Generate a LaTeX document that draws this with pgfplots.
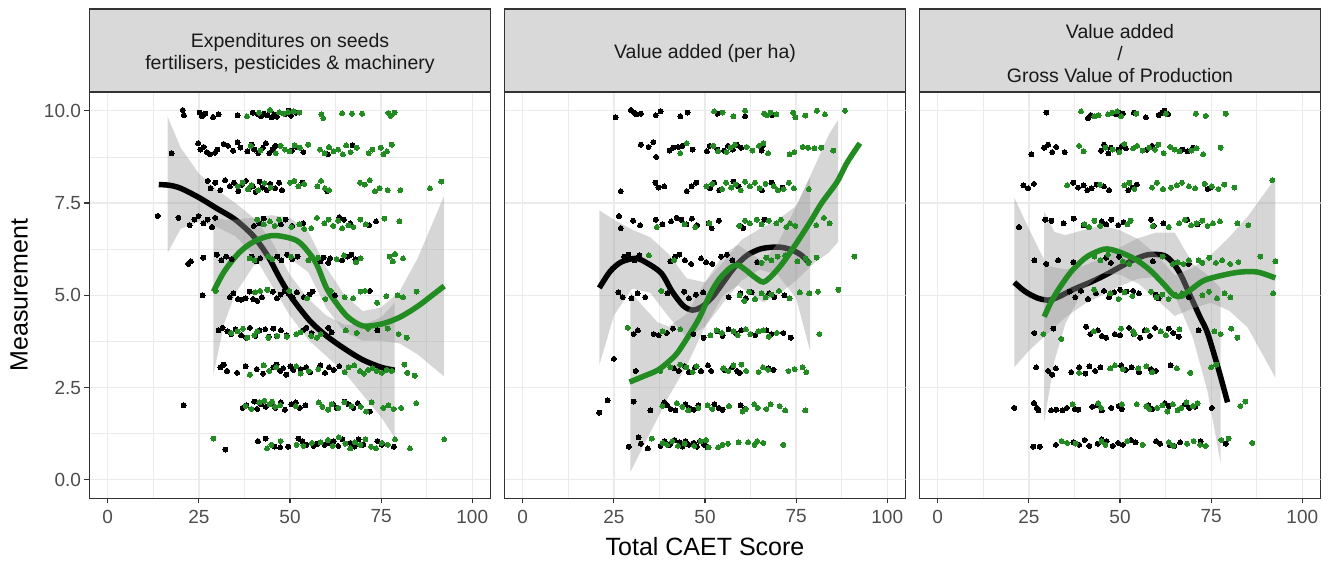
\documentclass[border=0pt]{standalone}
\usepackage{fontspec}
\setmainfont{Liberation Sans}
\usepackage{pgfplots}
\pgfplotsset{compat=1.18}
\definecolor{gridc}{HTML}{EBEBEB}
\definecolor{gtwenty}{HTML}{333333}
\definecolor{gthirty}{HTML}{4D4D4D}
\definecolor{stripc}{HTML}{D9D9D9}
\definecolor{ribc}{HTML}{999999}
\definecolor{fgreen}{HTML}{228B22}
\definecolor{txt}{HTML}{1A1A1A}
\pgfplotsset{
  panel/.style={
    scale only axis, width=401pt, height=406pt,
    xmin=-5, xmax=105, ymin=-0.5, ymax=10.5,
    xtick={0,25,50,75,100}, xticklabels={0,25,50,75,100},
    minor xtick={12.5,37.5,62.5,87.5},
    minor ytick={1.25,3.75,6.25,8.75},
    tick pos=left, tick align=outside,
    major tick length=5pt, minor tick length=0pt,
    grid=both,
    major grid style={draw=gridc, line width=1.3pt},
    minor grid style={draw=gridc, line width=0.7pt},
    axis line style={draw=gtwenty, line width=1.6pt},
    tick style={draw=gtwenty, line width=1.1pt},
    ticklabel style={font=\fontsize{19}{19}\selectfont, text=gthirty},
    xticklabel style={yshift=-3pt},
    /pgf/number format/assume math mode=true,
  },
  bpts/.style={only marks, mark=*, mark size=2.5pt, color=black, mark options={line width=0pt}},
  gpts/.style={only marks, mark=*, mark size=2.5pt, color=fgreen, mark options={line width=0pt}},
  rib/.style={draw=none, fill=ribc, fill opacity=0.4, mark=none},
  bline/.style={draw=black, line width=5.5pt, smooth, tension=0.5, mark=none},
  gline/.style={draw=fgreen, line width=5.5pt, smooth, tension=0.5, mark=none},
}
\newcommand{\ygrid}{%
  \draw[gridc, line width=1.3pt] (axis cs:-5,0) -- (axis cs:105,0);
  \draw[gridc, line width=1.3pt] (axis cs:-5,2.5) -- (axis cs:105,2.5);
  \draw[gridc, line width=1.3pt] (axis cs:-5,5) -- (axis cs:105,5);
  \draw[gridc, line width=1.3pt] (axis cs:-5,7.5) -- (axis cs:105,7.5);
  \draw[gridc, line width=1.3pt] (axis cs:-5,10) -- (axis cs:105,10);
}
\begin{document}
\begin{tikzpicture}
\useasboundingbox (0,0) rectangle (1335pt,563pt);
% ---------------- Panel 1 ----------------
\begin{axis}[panel, name=p1, at={(89.5pt,64.7pt)}, anchor=south west,
  ytick={0,2.5,5,7.5,10}, yticklabels={0.0,2.5,5.0,7.5,10.0}]
\addplot[bpts] coordinates {
(20.6,10.02) (20.9,9.88) (25.2,9.95) (25.9,9.85) (26.8,9.92) (28.9,9.83) (30.4,9.9) (35.6,9.88) (39.8,9.95) (41.2,9.9) (42.0,9.85) (42.9,9.92) (43.8,9.88) (44.9,9.82) (45.6,9.9) (46.4,9.84) (48.8,9.92) (49.6,10.0) (50.3,9.87) (51.7,9.95)
(17.5,8.85) (24.8,9.12) (25.4,8.95) (26.3,9.02) (27.2,8.88) (28.0,8.82) (29.4,8.86) (30.1,8.95) (31.8,9.1) (33.0,9.05) (34.4,8.92) (35.6,9.15) (36.4,9.0) (38.3,8.9) (39.5,9.08) (40.2,8.95) (41.3,8.85) (42.6,9.0) (43.4,9.12) (44.3,8.85) (45.2,8.95) (46.0,9.05) (50.5,8.92) (51.8,9.02) (53.7,8.88) (60.4,8.82) (67.2,9.06)
(27.4,8.1) (28.2,7.9) (29.5,8.05) (30.9,7.85) (32.2,8.12) (33.5,7.95) (34.6,8.05) (35.8,7.82) (36.8,8.0) (37.9,8.1) (38.7,7.88) (39.8,7.95) (40.6,7.8) (41.7,8.08) (42.5,7.92) (43.6,7.85) (44.6,8.02) (45.9,7.9) (47.0,8.05) (47.8,7.85) (53.4,8.05) (60.2,7.82)
(13.7,7.15) (19.4,7.1) (22.5,6.9) (23.8,7.05) (24.9,7.15) (26.2,6.95) (27.4,7.05) (28.6,6.85) (29.5,7.1) (40.1,6.88) (41.6,6.95) (42.8,7.08) (47.5,6.92) (48.8,7.05) (50.6,6.88) (53.6,6.95) (63.5,7.12) (64.8,7.05) (66.5,6.95) (71.7,6.9) (73.6,7.0)
(22.1,5.85) (22.8,5.92) (26.2,6.02) (29.9,6.1) (31.2,5.95) (32.5,6.05) (34.0,5.98) (39.5,6.05) (40.8,5.92) (41.8,6.0) (46.5,6.05) (47.6,5.95) (49.2,6.1) (50.6,5.98) (52.1,6.05) (58.3,5.92) (59.2,6.02) (60.5,5.88) (61.0,6.0) (64.3,5.95) (65.7,6.05) (66.8,6.1) (67.9,5.98)
(26.0,5.0) (33.5,4.95) (34.5,5.05) (35.7,4.9) (36.6,4.88) (37.8,4.92) (38.9,5.1) (39.9,4.9) (41.0,4.85) (42.3,4.95) (45.3,5.1) (46.4,4.92) (47.4,5.02) (48.5,5.12) (49.6,5.05) (50.7,4.95) (51.9,5.08) (53.8,4.95) (55.3,5.02) (56.2,5.1) (62.3,5.0) (71.9,5.12)
(30.4,4.05) (31.5,4.12) (32.8,4.02) (33.9,3.95) (35.1,4.08) (36.6,3.92) (38.0,3.85) (39.0,4.12) (40.5,3.9) (41.6,4.05) (43.2,4.08) (44.2,3.88) (45.4,4.1) (46.3,3.9) (47.5,4.05) (49.1,3.92) (53.6,4.05) (54.5,4.12) (55.9,3.98) (60.5,4.12) (61.4,4.0) (74.0,4.05)
(30.9,3.05) (31.8,3.12) (32.7,2.95) (35.5,2.9) (37.8,3.08) (40.9,3.0) (42.6,2.88) (45.4,3.05) (46.3,3.12) (47.3,2.95) (48.1,3.02) (49.0,2.85) (50.1,3.08) (50.9,2.98) (52.9,3.0) (54.4,3.05) (55.5,2.92) (58.3,3.1) (59.6,2.9) (60.7,3.05) (62.0,2.98) (63.5,3.08)
(20.8,2.02) (37.0,1.95) (38.0,2.02) (40.2,2.12) (41.0,1.92) (42.0,2.05) (43.4,1.98) (44.8,2.08) (46.0,1.95) (47.5,2.1) (48.6,1.9) (50.4,2.05) (51.6,2.1) (52.7,1.95) (54.2,2.02) (61.8,2.05) (62.8,1.95) (65.0,2.12) (66.0,2.05) (67.4,1.95) (68.6,2.08) (71.9,1.85)
(32.3,0.82) (41.2,1.05) (43.3,1.12) (45.7,0.9) (47.3,0.88) (49.5,0.9) (52.3,1.12) (53.4,1.05) (54.5,0.95) (56.5,0.92) (57.6,0.98) (59.5,0.95) (60.9,1.0) (62.0,1.05) (63.2,0.92) (64.4,1.1) (66.6,1.0) (67.7,0.9) (68.8,1.1) (70.1,0.95) (74.0,1.05) (75.2,0.95) (78.5,0.9)
};
\addplot[gpts] coordinates {
(38.2,9.85) (41.5,9.95) (44.5,10.02) (47.0,9.96) (48.3,9.92) (49.5,9.97) (51.0,9.98) (52.6,9.95) (58.6,9.9) (59.1,9.8) (64.3,9.93) (67.0,9.92) (69.8,9.92) (77.0,9.94) (77.6,9.86) (78.7,9.95)
(39.2,9.05) (41.9,8.92) (46.1,8.85) (47.4,9.05) (48.6,8.95) (49.8,8.9) (51.3,9.06) (52.7,9.0) (55.0,9.08) (58.2,8.95) (59.5,8.85) (60.7,9.02) (62.0,8.9) (63.2,8.95) (64.5,8.82) (65.4,9.06) (66.6,8.88) (68.3,9.0) (71.6,8.85) (72.6,8.95) (74.9,9.0) (75.6,8.82) (76.6,8.9) (77.9,9.08)
(35.7,7.95) (37.0,8.05) (38.5,7.88) (39.4,7.98) (41.3,7.85) (43.0,8.04) (44.7,7.92) (50.0,8.05) (51.2,8.1) (52.3,7.95) (53.9,8.02) (57.5,7.95) (58.5,8.1) (59.6,7.9) (60.7,7.85) (69.2,8.05) (70.5,8.0) (71.9,8.12) (73.3,7.82) (74.6,7.9) (76.8,7.85) (80.3,7.85) (88.4,7.9) (91.5,8.08)
(41.0,7.05) (42.8,6.92) (44.5,7.0) (45.8,6.88) (47.0,7.05) (50.4,6.85) (52.6,6.92) (53.9,6.8) (55.8,6.82) (57.4,7.1) (59.4,6.95) (60.6,7.05) (61.9,6.88) (63.2,7.02) (64.3,6.82) (66.0,6.9) (67.4,6.85) (69.3,7.05) (70.8,6.92) (75.9,7.08) (80.0,7.0)
(38.9,6.0) (40.2,5.95) (44.0,6.05) (45.1,5.98) (50.3,6.05) (55.0,5.95) (57.7,6.02) (62.8,5.98) (64.8,6.08) (68.1,5.9) (69.4,6.0) (77.3,6.05) (78.2,5.92) (78.8,6.12) (81.0,6.0)
(29.6,5.12) (40.4,5.08) (41.8,5.12) (43.8,5.15) (49.8,5.12) (54.7,4.92) (59.7,4.9) (61.2,5.12) (65.0,4.95) (67.3,4.92) (69.4,5.1) (70.6,5.12) (73.9,4.8) (76.4,4.98) (79.5,5.0) (81.0,4.95) (84.7,5.1)
(33.9,3.98) (35.6,4.02) (37.1,4.1) (38.3,3.85) (40.2,3.92) (41.0,4.02) (44.1,3.85) (46.5,3.9) (49.1,3.88) (51.7,3.95) (52.9,4.0) (55.8,3.9) (57.4,3.85) (58.4,3.95) (65.3,4.05) (68.3,3.98) (71.4,4.1) (76.8,4.1) (79.8,3.95) (82.0,3.85)
(39.0,2.85) (42.8,3.1) (44.3,2.95) (46.2,3.05) (51.7,3.08) (52.9,2.88) (55.1,2.95) (57.8,3.0) (65.0,2.92) (66.1,3.05) (67.6,3.1) (69.2,2.95) (70.3,2.88) (71.5,2.98) (72.6,3.02) (73.8,2.95) (75.2,2.9) (76.5,2.98) (77.9,2.95) (81.4,3.12) (82.2,2.9) (84.2,2.82)
(37.8,2.0) (39.4,1.92) (41.6,2.1) (43.0,2.14) (44.4,2.05) (45.1,2.12) (45.9,1.98) (47.3,2.02) (51.6,2.0) (57.9,2.1) (58.9,1.98) (60.5,1.9) (61.4,2.05) (63.3,1.95) (64.9,2.1) (66.8,2.0) (69.4,1.98) (70.9,1.85) (72.4,2.1) (75.6,1.95) (77.0,2.02) (78.4,1.92) (80.5,1.95) (84.6,2.08)
(29.0,1.12) (43.7,0.85) (44.9,0.95) (47.4,1.05) (51.8,0.95) (53.7,0.92) (56.0,1.0) (58.4,1.02) (60.4,1.08) (61.7,0.92) (63.4,1.15) (65.2,0.98) (66.5,0.85) (67.8,1.02) (69.3,0.95) (70.7,1.1) (72.2,0.9) (73.6,0.85) (75.2,1.0) (76.8,0.95) (78.8,1.1) (82.9,0.85) (92.3,1.1)
};
\addplot[rib] coordinates {(16.4,9.85) (20,9.0) (25,8.3) (30,7.85) (35,7.5) (40,7.1) (45,6.47) (50,5.55) (55,4.9) (60,4.45) (65,4.2) (70,4.2) (75,4.4) (78.7,4.8)
 (78.7,1.15) (75,1.7) (70,2.3) (65,2.9) (60,3.35) (55,3.8) (50,4.45) (45,5.27) (40,6.1) (35,6.6) (30,6.85) (25,7.0) (20,6.8) (16.4,6.15)};
\addplot[bline] coordinates {(14,8.0) (17,7.98) (20,7.9) (25,7.65) (30,7.35) (35,7.05) (40,6.6) (44,6.05) (47,5.5) (50,5.0) (53,4.6) (56,4.25) (60,3.9) (65,3.55) (70,3.25) (75,3.05) (78.7,2.97)};
\addplot[rib] coordinates {(29,7.1) (32,7.05) (35,7.05) (40,7.1) (45,7.17) (50,7.1) (55,6.73) (60,5.75) (65,5.0) (70,4.57) (75,4.67) (80,5.1) (85,6.0) (92.3,7.7)
 (92.3,2.8) (85,3.4) (80,3.7) (75,3.77) (70,3.77) (65,4.0) (60,4.65) (55,5.63) (50,6.0) (45,6.07) (40,5.8) (35,5.05) (32,4.25) (29,2.85)};
\addplot[gline] coordinates {(29,5.1) (32,5.65) (36,6.15) (40,6.45) (45,6.62) (50,6.55) (53,6.4) (57,5.9) (60,5.2) (63,4.75) (66,4.4) (70,4.17) (75,4.22) (80,4.4) (85,4.7) (89,5.0) (92.3,5.25)};
\end{axis}
% ---------------- Panel 2 ----------------
\begin{axis}[panel, name=p2, at={(504.5pt,64.7pt)}, anchor=south west, ytick=\empty]
\ygrid
\addplot[bpts] coordinates {
(25.5,9.82) (29.7,10.02) (30.5,9.95) (31.2,9.9) (32.4,9.92) (36.5,9.88) (37.8,9.98) (43.2,9.85) (45.2,9.95) (53.4,9.92) (61.0,9.85) (68.4,9.88)
(32.4,9.08) (34.5,9.02) (35.8,9.15) (36.6,8.75) (40.3,8.92) (41.3,9.0) (42.6,9.02) (43.8,9.05) (46.6,8.95) (50.5,8.9) (51.3,9.05) (53.4,8.95) (55.2,8.92) (56.3,9.05) (57.6,8.95) (58.7,9.08) (59.9,9.0) (65.5,8.92) (65.9,9.05)
(26.9,7.82) (36.4,8.05) (37.2,7.92) (38.8,7.95) (45.0,7.82) (46.3,7.95) (47.6,8.05) (51.4,7.9) (52.5,8.05) (53.9,7.85) (57.8,8.08) (59.2,7.95) (65.6,7.85) (68.3,8.05) (71.3,7.92)
(26.4,7.15) (26.9,6.82) (30.3,7.02) (32.2,6.9) (36.5,7.05) (38.3,6.92) (40.7,7.0) (42.2,7.1) (43.5,7.05) (44.9,6.92) (46.4,7.08) (47.8,6.9) (51.0,6.95) (51.8,6.82) (53.8,7.02) (59.7,6.88) (60.5,6.82) (66.3,7.05)
(27.8,6.05) (29.0,6.1) (30.6,5.95) (32.0,6.08) (40.5,5.92) (41.8,6.05) (43.0,6.1) (44.5,5.95) (46.2,5.85) (48.9,6.0) (50.3,5.9) (52.0,5.85) (54.4,6.05) (56.0,6.1) (57.5,5.95) (64.3,5.9)
(26.2,5.08) (27.4,4.95) (29.8,4.92) (31.5,5.05) (33.6,4.95) (39.7,5.05) (44.3,5.1) (45.6,4.92) (47.5,5.02) (49.5,5.08) (56.5,4.95) (59.7,5.05) (61.2,4.92) (62.8,5.08) (67.6,5.05) (69.0,4.95) (71.8,5.0)
(30.4,3.95) (31.6,4.05) (35.9,3.95) (37.3,3.92) (39.5,3.98) (41.2,4.1) (46.8,3.95) (49.6,3.85) (53.4,4.02) (54.8,3.9) (56.5,4.08) (58.3,3.98) (59.9,4.05) (62.5,3.95) (63.8,3.92) (66.8,4.05) (68.2,3.95) (71.5,3.98) (73.5,3.85)
(25.0,3.28) (31.0,2.95) (41.5,3.02) (42.8,2.95) (44.5,3.08) (45.6,2.92) (47.3,3.05) (48.9,2.95) (50.8,3.1) (51.7,2.95) (55.3,2.98) (57.4,3.05) (58.8,2.95) (59.5,2.9) (67.4,3.02) (68.8,2.98)
(21.0,1.82) (23.3,2.15) (30.4,2.12) (35.0,1.88) (38.8,2.1) (39.6,2.02) (40.6,1.92) (41.9,1.88) (44.6,2.05) (45.7,1.95) (46.9,1.9) (48.2,2.02) (52.6,2.05) (53.8,1.95) (54.8,1.9) (59.8,2.02) (60.9,1.92)
(29.1,0.9) (31.8,1.15) (32.4,0.98) (34.3,0.85) (37.8,0.92) (38.9,1.05) (40.3,0.95) (41.6,1.08) (43.0,1.02) (43.8,0.9) (44.7,1.05) (45.6,0.95) (46.9,1.0) (47.8,0.9) (48.6,1.05) (49.8,0.95) (50.7,0.88)
};
\addplot[gpts] coordinates {
(52.5,9.98) (54.8,9.95) (57.8,9.85) (61.0,10.0) (66.2,9.92) (67.0,9.88) (68.0,9.95) (69.6,9.9) (74.2,9.95) (74.8,9.82) (77.5,9.87) (80.7,10.0) (82.9,9.9) (88.4,10.0)
(43.2,8.85) (45.0,9.12) (52.3,9.05) (53.6,8.9) (55.9,8.88) (57.0,9.0) (58.2,9.08) (61.4,9.02) (63.0,8.92) (64.8,9.05) (66.0,9.12) (67.3,8.85) (73.2,8.82) (74.5,8.88) (76.8,9.02) (78.3,9.0) (80.0,8.98) (81.9,9.0) (85.2,8.92)
(50.4,7.95) (52.0,8.02) (54.7,7.88) (55.8,8.05) (57.2,7.92) (58.4,8.0) (59.8,7.85) (61.0,8.08) (62.3,7.95) (63.7,8.05) (65.0,7.9) (66.6,8.02) (68.9,7.95) (70.0,7.85) (71.6,7.88) (73.0,8.05) (74.4,7.9) (78.5,7.88)
(36.8,6.85) (44.4,6.92) (47.3,6.85) (51.2,6.95) (59.4,6.88) (61.0,7.02) (62.3,6.95) (64.2,7.05) (65.5,6.92) (67.5,7.02) (69.6,6.95) (70.8,7.05) (72.3,6.85) (73.3,6.95) (74.8,6.88) (80.5,6.9) (82.6,7.1) (84.2,6.95)
(34.6,6.08) (41.5,5.95) (65.5,5.88) (66.8,6.02) (68.2,5.95) (69.9,6.05) (72.0,6.08) (75.3,5.92) (77.6,6.0) (78.4,5.88) (80.6,6.02) (91.0,6.05)
(38.0,5.12) (59.5,5.0) (60.8,4.85) (62.1,5.1) (63.7,4.9) (65.5,5.05) (66.6,4.95) (68.2,5.02) (70.3,5.12) (73.2,4.92) (76.0,5.08) (78.6,5.05) (81.0,5.1) (86.6,5.15)
(28.8,4.12) (38.4,4.02) (43.2,4.08) (51.5,3.92) (53.2,4.05) (54.6,3.98) (57.8,4.02) (59.0,3.92) (61.2,4.08) (62.4,3.95) (64.6,4.02) (66.0,4.05) (67.5,3.88) (69.7,3.98) (81.4,3.95)
(37.7,2.95) (40.5,3.05) (43.2,3.12) (44.9,3.05) (46.6,2.92) (47.7,3.08) (55.0,3.02) (56.4,2.95) (57.8,3.1) (60.0,3.12) (61.3,2.95) (64.7,2.92) (65.9,3.05) (67.3,2.98) (72.9,2.95) (74.6,3.0) (76.8,3.05) (77.8,2.92)
(38.3,2.0) (42.3,2.08) (43.8,1.98) (45.4,1.88) (48.2,1.95) (50.7,2.02) (52.0,1.92) (56.6,2.0) (60.3,1.85) (61.2,1.92) (63.5,2.05) (64.5,1.95) (66.8,1.92) (68.0,2.05) (70.5,2.0) (72.0,1.88) (77.5,1.88)
(35.4,1.12) (38.4,1.0) (39.6,0.95) (41.0,1.05) (42.6,0.92) (44.4,0.98) (47.0,0.92) (48.8,1.05) (50.3,1.08) (51.0,0.88) (53.6,0.88) (54.8,0.95) (56.3,0.98) (59.2,1.02) (61.8,1.02) (63.6,0.95) (64.3,1.05) (66.0,1.0) (71.5,0.95)
};
\addplot[rib] coordinates {(21,7.3) (25,7.05) (30,6.78) (35,6.57) (40,6.12) (45,5.46) (50,5.35) (55,5.9) (60,6.5) (65,6.8) (70,7.05) (75,7.42) (78.8,8.2)
 (78.8,3.5) (75,4.92) (70,5.55) (65,5.7) (60,5.4) (55,4.8) (50,4.15) (45,3.86) (40,4.42) (35,5.07) (30,5.18) (25,4.45) (21,3.1)};
\addplot[bline] coordinates {(21,5.2) (24,5.65) (27,5.9) (31,6.0) (34,5.88) (38,5.6) (41,5.1) (44,4.72) (46.5,4.6) (49,4.68) (52,4.95) (55,5.35) (58,5.75) (61.5,6.08) (65,6.25) (68,6.3) (71,6.3) (74,6.22) (76.5,6.08) (78.8,5.85)};
\addplot[rib] coordinates {(29.5,5.1) (33,4.7) (37,4.27) (40,4.15) (45,4.5) (50,5.35) (55,6.1) (59,6.37) (63,6.1) (66,5.91) (70,6.42) (75,7.4) (80,8.48) (84,9.36) (86.5,9.75)
 (86.5,6.45) (84,6.16) (80,5.88) (75,5.4) (70,5.02) (66,4.81) (63,5.0) (59,5.27) (55,5.0) (50,4.15) (45,3.1) (40,2.25) (37,1.67) (33,0.9) (29.5,0.2)};
\addplot[gline] coordinates {(29.3,2.65) (33,2.8) (37,2.97) (40,3.2) (42.5,3.45) (46,3.98) (48.5,4.4) (51.5,5.05) (54,5.45) (57,5.75) (59,5.82) (61,5.7) (63.5,5.5) (66,5.36) (68.5,5.55) (71.5,5.9) (75,6.4) (78.8,6.98) (82,7.5) (86.2,8.07) (89,8.6) (92.5,9.12)};
\end{axis}
% ---------------- Panel 3 ----------------
\begin{axis}[panel, name=p3, at={(919.5pt,64.7pt)}, anchor=south west, ytick=\empty]
\ygrid
\addplot[bpts] coordinates {
(29.8,9.95) (41.2,9.8) (42.0,9.88) (48.9,9.9) (49.7,9.95) (50.8,9.92) (53.8,9.95) (57.1,9.82) (60.6,9.88) (61.5,9.95) (62.2,10.0) (63.2,9.9)
(25.7,8.82) (29.2,9.0) (30.3,9.08) (31.4,8.88) (32.5,9.02) (34.8,8.88) (44.8,8.92) (45.6,9.08) (46.8,8.85) (47.5,9.0) (49.6,8.95) (50.5,9.05) (51.6,8.98) (57.4,8.95) (58.8,9.05) (67.2,8.95) (68.5,8.9) (70.0,9.0)
(23.5,7.98) (24.8,7.9) (26.4,8.02) (37.2,8.05) (38.5,7.92) (40.0,7.98) (41.0,7.85) (42.2,7.9) (43.6,8.0) (45.6,7.95) (47.0,7.85) (52.3,7.85) (53.5,7.92) (54.6,8.0) (74.0,7.88) (74.9,7.92)
(22.3,6.85) (29.5,7.05) (31.2,7.02) (34.5,6.95) (37.3,7.08) (40.0,6.9) (45.0,7.0) (46.2,6.92) (47.6,7.05) (49.5,6.9) (51.0,6.98) (58.5,7.05) (59.3,6.88) (61.9,6.95) (68.4,7.05) (71.3,6.92)
(26.5,5.95) (29.8,5.85) (33.0,5.95) (37.2,5.9) (46.2,6.02) (47.5,5.88) (49.7,6.05) (59.0,5.92) (68.9,5.85)
(36.2,5.1) (37.7,4.95) (39.3,5.12) (41.2,4.9) (43.4,5.05) (45.6,5.12) (47.0,4.95) (48.4,5.08) (50.0,5.15) (51.8,5.1) (53.6,5.12) (55.2,5.05) (59.8,5.02) (60.6,4.92) (68.9,4.95)
(26.5,3.98) (31.7,4.1) (40.7,4.15) (41.9,3.95) (43.9,4.05) (45.0,3.9) (46.2,3.85) (48.6,3.95) (50.0,3.92) (52.5,4.12) (53.8,3.95) (55.5,3.85) (56.8,4.05) (58.2,3.9) (59.6,4.12) (63.4,4.1) (64.6,3.98) (66.1,3.88) (71.6,4.05)
(27.0,3.05) (30.3,2.95) (31.4,2.85) (32.4,3.02) (36.6,2.92) (38.8,3.05) (40.5,2.88) (41.6,3.08) (43.2,2.95) (44.6,3.05) (50.3,3.1) (51.6,2.98) (53.2,3.05) (55.2,2.92) (58.5,3.0) (59.8,2.95) (63.9,3.1)
(21.0,1.95) (26.4,2.08) (27.2,1.95) (27.6,1.88) (31.1,1.88) (32.5,1.9) (34.2,1.88) (35.4,1.95) (37.6,1.92) (38.6,1.9) (42.4,1.98) (43.8,2.02) (45.0,1.88) (47.6,1.95) (49.6,2.0) (50.5,1.92) (57.8,2.02) (58.8,1.92) (62.3,2.08) (63.4,2.0) (67.8,2.05) (69.0,1.95) (70.6,1.98) (75.2,1.95)
(26.2,0.9) (28.0,0.9) (32.4,0.95) (37.2,1.02) (38.8,0.95) (40.3,1.08) (41.6,0.92) (43.9,0.98) (45.0,1.1) (46.3,1.05) (48.0,0.92) (49.5,1.0) (50.8,0.95) (53.0,1.08) (54.3,1.02) (59.9,1.05) (61.0,0.98) (63.6,0.95) (64.9,0.92) (66.5,1.02) (72.1,1.05) (79.0,0.98)
};
\addplot[gpts] coordinates {
(39.3,9.98) (43.0,9.85) (44.1,9.88) (46.7,9.9) (47.8,9.95) (49.2,9.98) (50.3,9.85) (54.5,9.92) (62.6,9.92) (70.8,9.92) (73.5,9.86) (79.0,9.92)
(38.8,9.05) (40.0,8.9) (46.0,9.0) (48.0,8.95) (49.8,8.88) (51.2,9.1) (53.6,8.98) (54.7,9.05) (56.2,8.92) (58.0,9.0) (59.6,8.95) (60.5,9.08) (62.0,8.85) (63.8,9.02) (65.0,8.95) (66.3,8.9) (69.6,8.92) (71.0,8.98) (72.8,8.82) (77.6,9.0)
(35.5,7.98) (44.5,8.0) (51.2,7.98) (52.6,8.05) (53.9,7.88) (58.8,7.92) (60.1,8.05) (61.8,7.88) (64.0,7.92) (65.6,7.98) (67.0,8.05) (68.9,7.95) (70.6,7.9) (73.2,8.02) (75.2,7.95) (77.0,7.88) (78.6,8.0) (81.4,7.92) (91.8,8.12)
(40.2,6.92) (41.5,6.85) (43.0,7.02) (44.6,6.88) (52.0,6.92) (52.9,7.02) (59.0,6.88) (63.4,6.85) (66.2,6.95) (67.8,7.05) (69.5,6.9) (71.0,6.95) (72.6,7.02) (74.0,6.88) (75.5,6.95) (77.4,7.0) (82.2,6.95) (85.2,6.9)
(43.0,6.05) (44.6,5.95) (46.7,6.1) (50.8,5.92) (52.5,5.85) (55.2,5.95) (61.7,6.05) (64.5,5.85) (65.8,5.9) (67.4,5.85) (68.9,5.95) (71.6,5.95) (72.6,5.88) (74.5,6.02) (76.3,5.88) (78.0,5.95) (80.2,5.85) (82.5,5.9) (88.5,6.05) (92.6,5.92)
(42.9,5.15) (47.3,5.05) (49.6,4.9) (51.2,5.08) (53.4,4.98) (58.5,5.1) (60.0,4.95) (61.6,5.02) (63.3,4.9) (64.9,5.02) (67.0,5.05) (72.6,5.0) (74.4,5.1) (76.6,4.92) (78.7,5.05) (80.3,4.95) (92.0,5.05)
(29.0,3.95) (33.9,3.82) (42.8,4.02) (50.3,4.1) (53.6,4.02) (54.0,3.95) (57.4,4.05) (61.2,4.02) (62.6,3.92) (66.3,4.08) (75.9,4.02) (77.6,3.95) (80.5,4.1) (82.2,3.85)
(38.8,2.9) (47.3,3.02) (48.6,3.1) (50.8,3.0) (55.0,3.02) (57.2,3.08) (58.8,2.92) (65.6,3.02) (69.3,2.9) (75.0,3.05) (76.4,3.12)
(37.0,2.05) (44.0,2.08) (44.8,1.95) (50.5,2.05) (54.6,2.05) (57.2,2.0) (58.0,1.92) (60.2,1.95) (61.6,2.02) (63.0,1.85) (64.5,2.05) (65.8,1.88) (66.8,1.95) (68.2,2.1) (70.0,2.0) (71.3,2.08) (83.0,2.0) (84.4,2.12)
(34.0,1.05) (35.5,1.0) (37.8,0.98) (44.9,1.05) (46.0,0.95) (52.0,1.05) (56.2,0.95) (63.4,1.02) (64.6,0.92) (68.4,0.98) (70.2,1.05) (72.0,0.95) (73.5,0.92) (77.8,1.08) (79.8,1.12) (86.3,1.0)
};
\addplot[rib] coordinates {(21,7.65) (25,6.8) (30,5.8) (35,5.7) (40,5.8) (45,6.0) (50,6.3) (55,6.55) (60,6.7) (65,6.7) (70,5.85) (74,5.55) (77.6,5.2)
 (77.6,0.45) (74,2.4) (70,3.85) (65,5.0) (60,5.5) (55,5.45) (50,5.25) (45,5.0) (40,4.75) (35,4.4) (30,3.95) (25,3.5) (21,3.05)};
\addplot[bline] coordinates {(21,5.35) (24,5.1) (27.5,4.92) (30.5,4.87) (33,4.95) (37,5.15) (42,5.36) (46,5.55) (49.5,5.74) (53.5,5.95) (57.7,6.1) (62,6.08) (64.5,5.88) (66.7,5.55) (69.4,4.96) (72,4.4) (74,3.98) (77,3.0) (79.5,2.1)};
\addplot[rib] coordinates {(29.2,7.27) (32,6.72) (35,6.63) (40,6.77) (45,6.89) (50,6.76) (55,6.52) (60,6.1) (65,5.54) (70,5.75) (75,6.1) (80,6.58) (85,7.13) (92.6,8.17)
 (92.6,2.77) (85,4.13) (80,4.58) (75,4.8) (70,4.65) (65,4.44) (60,4.9) (55,5.32) (50,5.56) (45,5.59) (40,5.17) (35,4.23) (32,3.22) (29.2,1.57)};
\addplot[gline] coordinates {(29.2,4.42) (31,4.8) (33,5.14) (35.5,5.5) (37.5,5.74) (41,6.05) (45.6,6.25) (49,6.2) (53.8,6.0) (58,5.7) (62,5.3) (64.8,5.0) (67,4.98) (69.4,5.15) (73,5.4) (78.4,5.55) (83,5.63) (87.7,5.63) (92.6,5.47)};
\end{axis}
% ---------------- Strips ----------------
\foreach \p in {p1,p2,p3}{
  \draw[fill=stripc, draw=gtwenty, line width=1.6pt] (\p.north west) rectangle ([yshift=83.3pt]\p.north east);
}
\node[font=\fontsize{19.5}{22}\selectfont, text=txt, align=center, inner sep=0pt] at ([yshift=39pt]p1.north) {Expenditures on seeds\\fertilisers, pesticides \& machinery};
\node[font=\fontsize{19.5}{22}\selectfont, text=txt, align=center, inner sep=0pt] at ([yshift=39pt]p2.north) {Value added (per ha)};
\node[font=\fontsize{19.5}{22}\selectfont, text=txt, align=center, inner sep=0pt] at ([yshift=39pt]p3.north) {Value added\\/\\Gross Value of Production};
% ---------------- Axis titles ----------------
\node[font=\fontsize{25}{25}\selectfont, anchor=base] at (705pt,8pt) {Total CAET Score};
\node[font=\fontsize{25}{25}\selectfont, rotate=90, anchor=base] at (27.5pt,268pt) {Measurement};
\end{tikzpicture}
\end{document}
